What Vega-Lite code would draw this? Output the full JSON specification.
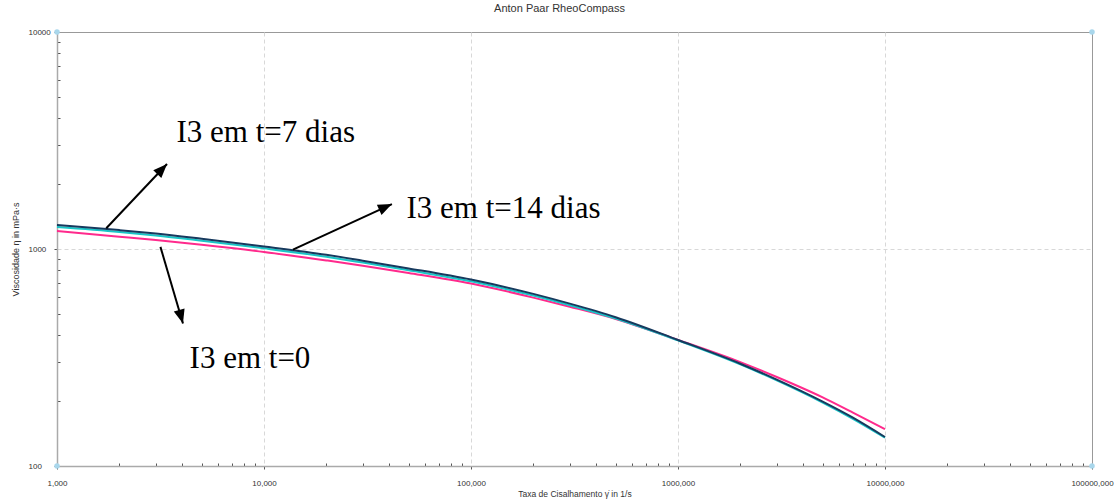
{
  "$schema": "https://vega.github.io/schema/vega-lite/v6.json",
  "width": 1035,
  "height": 434,
  "autosize": "none",
  "padding": {"left": 57, "top": 32, "right": 26, "bottom": 33},
  "background": "white",
  "config": {
    "view": {"stroke": "#999999", "strokeWidth": 1},
    "font": "Liberation Sans"
  },
  "title": {
    "text": "Anton Paar RheoCompass",
    "font": "Liberation Sans",
    "fontSize": 11,
    "fontWeight": "normal",
    "color": "#333333",
    "anchor": "middle",
    "baseline": "alphabetic",
    "offset": 5,
    "dx": -15
  },
  "datasets": {
    "curves": [
      {"serie": "t0", "rate": 1, "visc": 1211},
      {"serie": "t0", "rate": 2, "visc": 1140},
      {"serie": "t0", "rate": 3, "visc": 1099},
      {"serie": "t0", "rate": 5, "visc": 1045},
      {"serie": "t0", "rate": 10, "visc": 969},
      {"serie": "t0", "rate": 20, "visc": 886},
      {"serie": "t0", "rate": 30, "visc": 838},
      {"serie": "t0", "rate": 50, "visc": 776},
      {"serie": "t0", "rate": 100, "visc": 693},
      {"serie": "t0", "rate": 200, "visc": 597},
      {"serie": "t0", "rate": 300, "visc": 542},
      {"serie": "t0", "rate": 500, "visc": 476},
      {"serie": "t0", "rate": 1000, "visc": 381},
      {"serie": "t0", "rate": 2000, "visc": 301},
      {"serie": "t0", "rate": 3000, "visc": 257},
      {"serie": "t0", "rate": 5000, "visc": 207},
      {"serie": "t0", "rate": 7000, "visc": 176},
      {"serie": "t0", "rate": 10000, "visc": 148},
      {"serie": "t7", "rate": 1, "visc": 1262},
      {"serie": "t7", "rate": 2, "visc": 1198},
      {"serie": "t7", "rate": 3, "visc": 1155},
      {"serie": "t7", "rate": 5, "visc": 1092},
      {"serie": "t7", "rate": 10, "visc": 1007},
      {"serie": "t7", "rate": 20, "visc": 921},
      {"serie": "t7", "rate": 30, "visc": 866},
      {"serie": "t7", "rate": 50, "visc": 799},
      {"serie": "t7", "rate": 100, "visc": 710},
      {"serie": "t7", "rate": 200, "visc": 610},
      {"serie": "t7", "rate": 300, "visc": 551},
      {"serie": "t7", "rate": 500, "visc": 478},
      {"serie": "t7", "rate": 1000, "visc": 379},
      {"serie": "t7", "rate": 2000, "visc": 294},
      {"serie": "t7", "rate": 3000, "visc": 248},
      {"serie": "t7", "rate": 5000, "visc": 196},
      {"serie": "t7", "rate": 7000, "visc": 165},
      {"serie": "t7", "rate": 10000, "visc": 135},
      {"serie": "t14", "rate": 1, "visc": 1290},
      {"serie": "t14", "rate": 2, "visc": 1222},
      {"serie": "t14", "rate": 3, "visc": 1178},
      {"serie": "t14", "rate": 5, "visc": 1114},
      {"serie": "t14", "rate": 10, "visc": 1027},
      {"serie": "t14", "rate": 20, "visc": 940},
      {"serie": "t14", "rate": 30, "visc": 883},
      {"serie": "t14", "rate": 50, "visc": 814},
      {"serie": "t14", "rate": 100, "visc": 723},
      {"serie": "t14", "rate": 200, "visc": 621},
      {"serie": "t14", "rate": 300, "visc": 560},
      {"serie": "t14", "rate": 500, "visc": 485},
      {"serie": "t14", "rate": 1000, "visc": 381},
      {"serie": "t14", "rate": 2000, "visc": 296},
      {"serie": "t14", "rate": 3000, "visc": 250},
      {"serie": "t14", "rate": 5000, "visc": 198},
      {"serie": "t14", "rate": 7000, "visc": 167},
      {"serie": "t14", "rate": 10000, "visc": 136}
    ],
    "arrows": [
      {"label": "I3 em t=7 dias", "x1": 1.73, "y1": 1247, "x2": 3.40, "y2": 2465, "angle": 44, "tx": 3.78, "ty": 3102},
      {"label": "I3 em t=14 dias", "x1": 13.8, "y1": 993, "x2": 41.5, "y2": 1611, "angle": 65.5, "tx": 48.8, "ty": 1390},
      {"label": "I3 em t=0", "x1": 3.16, "y1": 1023, "x2": 4.06, "y2": 454, "angle": 164.3, "tx": 4.37, "ty": 283}
    ],
    "corners": [
      {"rate": 1, "visc": 100},
      {"rate": 1, "visc": 10000},
      {"rate": 100000, "visc": 10000},
      {"rate": 100000, "visc": 100}
    ]
  },
  "layer": [
    {
      "data": {"name": "curves"},
      "transform": [{"filter": "datum.serie === 't0'"}],
      "mark": {"type": "line", "color": "#ff2a8c", "strokeWidth": 2, "interpolate": "monotone"},
      "encoding": {
        "x": {
          "field": "rate", "type": "quantitative",
          "scale": {"type": "log", "domain": [1, 100000], "nice": false},
          "axis": {
            "values": [1,2,3,4,5,6,7,8,9,10,20,30,40,50,60,70,80,90,100,200,300,400,500,600,700,800,900,1000,2000,3000,4000,5000,6000,7000,8000,9000,10000,20000,30000,40000,50000,60000,70000,80000,90000,100000],
            "labelExpr": "indexof([1,10,100,1000,10000,100000], datum.value) >= 0 ? datum.value + ',000' : ''",
            "title": "Taxa de Cisalhamento γ̇ in 1/s",
            "titleFont": "Liberation Sans",
            "titleFontSize": 8.5,
            "titleFontWeight": "normal",
            "titleColor": "#333333",
            "titlePadding": 2,
            "labelFont": "Liberation Sans",
            "labelFontSize": 8,
            "labelColor": "#333333",
            "labelPadding": 10,
            "labelFlush": false,
            "labelOverlap": false,
            "domainColor": "#aaaaaa",
            "domainWidth": 1.5,
            "tickColor": "#555555",
            "tickSize": {"condition": {"test": "indexof([1,10,100,1000,10000,100000], datum.value) >= 0", "value": 3}, "value": -3},
            "grid": true,
            "gridColor": "#d8d8d8",
            "gridDash": [4, 3],
            "gridOpacity": {"condition": {"test": "indexof([10,100,1000,10000], datum.value) >= 0", "value": 1}, "value": 0}
          }
        },
        "y": {
          "field": "visc", "type": "quantitative",
          "scale": {"type": "log", "domain": [100, 10000], "nice": false},
          "axis": {
            "values": [100,200,300,400,500,600,700,800,900,1000,2000,3000,4000,5000,6000,7000,8000,9000,10000],
            "labelExpr": "indexof([100,1000,10000], datum.value) >= 0 ? '' + datum.value : ''",
            "title": "Viscosidade η in mPa·s",
            "titleFont": "Liberation Sans",
            "titleFontSize": 9,
            "titleFontWeight": "normal",
            "titleColor": "#333333",
            "titlePadding": 8,
            "labelFont": "Liberation Sans",
            "labelFontSize": 8,
            "labelColor": "#333333",
            "labelAlign": "left",
            "labelPadding": 26,
            "labelFlush": false,
            "labelOverlap": false,
            "domainColor": "#aaaaaa",
            "domainWidth": 1.5,
            "tickColor": "#555555",
            "tickSize": {"condition": {"test": "indexof([100,1000,10000], datum.value) >= 0", "value": 3}, "value": -3},
            "grid": true,
            "gridColor": "#d8d8d8",
            "gridDash": [4, 3],
            "gridOpacity": {"condition": {"test": "datum.value === 1000", "value": 1}, "value": 0}
          }
        }
      }
    },
    {
      "data": {"name": "curves"},
      "transform": [{"filter": "datum.serie === 't7'"}],
      "mark": {"type": "line", "color": "#19c6c8", "strokeWidth": 2, "interpolate": "monotone"},
      "encoding": {
        "x": {"field": "rate", "type": "quantitative"},
        "y": {"field": "visc", "type": "quantitative"}
      }
    },
    {
      "data": {"name": "curves"},
      "transform": [{"filter": "datum.serie === 't14'"}],
      "mark": {"type": "line", "color": "#173a5e", "strokeWidth": 2, "interpolate": "monotone"},
      "encoding": {
        "x": {"field": "rate", "type": "quantitative"},
        "y": {"field": "visc", "type": "quantitative"}
      }
    },
    {
      "data": {"name": "arrows"},
      "mark": {"type": "rule", "color": "#000000", "strokeWidth": 2},
      "encoding": {
        "x": {"field": "x1", "type": "quantitative"},
        "y": {"field": "y1", "type": "quantitative"},
        "x2": {"field": "x2"},
        "y2": {"field": "y2"}
      }
    },
    {
      "data": {"name": "arrows"},
      "mark": {"type": "point", "shape": "M0,0L-0.8,2L0.8,2Z", "filled": true, "color": "#000000", "opacity": 1, "size": 196},
      "encoding": {
        "x": {"field": "x2", "type": "quantitative"},
        "y": {"field": "y2", "type": "quantitative"},
        "angle": {"field": "angle", "type": "quantitative", "scale": null}
      }
    },
    {
      "data": {"name": "arrows"},
      "mark": {"type": "text", "font": "Liberation Serif", "fontSize": 31, "align": "left", "baseline": "alphabetic", "color": "#000000"},
      "encoding": {
        "x": {"field": "tx", "type": "quantitative"},
        "y": {"field": "ty", "type": "quantitative"},
        "text": {"field": "label"}
      }
    },
    {
      "data": {"name": "corners"},
      "mark": {"type": "point", "filled": true, "color": "#a9d7ec", "size": 30, "opacity": 1},
      "encoding": {
        "x": {"field": "rate", "type": "quantitative"},
        "y": {"field": "visc", "type": "quantitative"}
      }
    }
  ]
}
